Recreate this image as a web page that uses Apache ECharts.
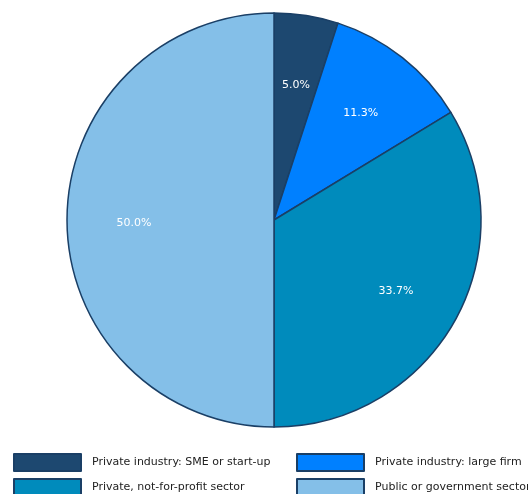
<!DOCTYPE html>
<html>
<head>
<meta charset="utf-8">
<script src="https://cdn.jsdelivr.net/npm/echarts@6/dist/echarts.min.js"></script>
<style>
  html, body { margin: 0; padding: 0; background: #fff; }
  #chart { width: 528px; height: 494px; }
</style>
</head>
<body>
<div id="chart"></div>
<script>
  // 数据
  var categories = ['Private industry: SME or start-up', 'Private industry: large firm', 'Private, not-for-profit sector', 'Public or government sector'];
  var shares = [5.0, 11.3, 33.7, 50.0];
  var colors = ['#1d4870', '#0080ff', '#008bbc', '#84bfe8'];

  var pieData = categories.map(function (name, i) {
    return { name: name, value: shares[i], itemStyle: { color: colors[i] } };
  });

  // 图例位置 (两列两行)
  var legendPos = [[13, 453], [296, 453], [13, 478], [296, 478]];

  var myChart = echarts.init(document.getElementById('chart'));
  var legends = categories.map(function (name, i) {
    return {
      left: legendPos[i][0],
      top: legendPos[i][1],
      padding: 0,
      data: [name],
      itemWidth: 67,
      itemHeight: 17,
      icon: 'rect',
      itemStyle: { borderColor: '#1a3f66', borderWidth: 2 },
      textStyle: { fontFamily: 'DejaVu Sans', fontSize: 11, color: '#222', padding: [0, 0, 0, 6] }
    };
  });

  myChart.setOption({
    animation: false,
    legend: legends,
    series: [
      {
        type: 'pie',
        center: [274, 220],
        radius: 207,
        startAngle: 90,
        clockwise: true,
        label: { show: false },
        labelLine: { show: false },
        itemStyle: { borderColor: '#1a3f66', borderWidth: 1.5 },
        emphasis: { disabled: true },
        data: pieData
      },
      {
        // 只用来放百分比标签
        type: 'pie',
        center: [274, 223],
        radius: [67, 207],
        startAngle: 90,
        silent: true,
        itemStyle: { color: 'transparent', borderWidth: 0 },
        label: {
          show: true,
          position: 'inside',
          color: '#fff',
          fontFamily: 'DejaVu Sans',
          fontSize: 11,
          formatter: function (p) { return p.value.toFixed(1) + '%'; }
        },
        labelLine: { show: false },
        emphasis: { disabled: true },
        data: shares.map(function (v, i) { return { name: categories[i] + ' ', value: v }; })
      }
    ]
  });
</script>
</body>
</html>
